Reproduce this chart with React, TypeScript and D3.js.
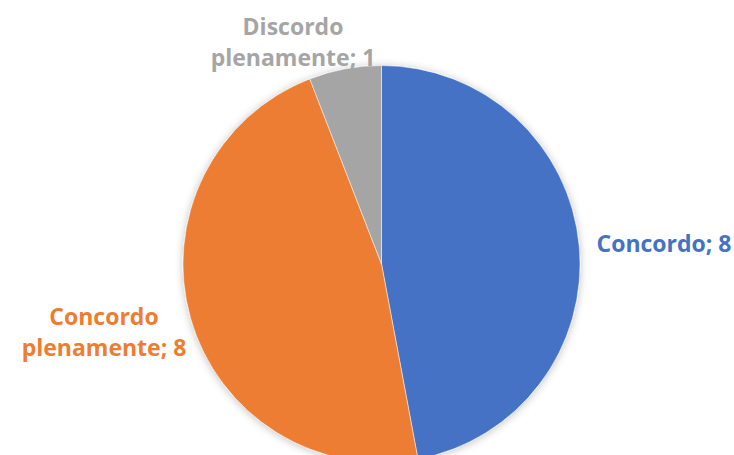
import React from "react";
import * as d3 from "d3";

const categories = ["Concordo", "Concordo plenamente", "Discordo plenamente"];
const values = [8, 8, 1];
const colors = ["#4472C4", "#ED7D31", "#A5A5A5"];
const labelLines = [["Concordo; 8"], ["Concordo", "plenamente; 8"], ["Discordo", "plenamente; 1"]];

export default function App() {
  const W = 734, H = 455;
  const cx = 381.5, cy = 264, r = 198.5;
  const pie = d3.pie<number>().sort(null).value((d) => d)(values);
  const arc = d3.arc<d3.PieArcDatum<number>>().innerRadius(0).outerRadius(r);
  const labelPos = [
    { x: 664, y: 252 },
    { x: 104, y: 325 },
    { x: 293, y: 35 },
  ];
  return (
    <svg width={W} height={H} style={{ position: "absolute", left: 0, top: 0 }}>
      <defs>
        <filter id="sh" x="-10%" y="-10%" width="120%" height="120%">
          <feGaussianBlur in="SourceAlpha" stdDeviation="4" />
          <feOffset dx="0" dy="1" result="b" />
          <feComponentTransfer>
            <feFuncA type="linear" slope="0.25" />
          </feComponentTransfer>
          <feMerge>
            <feMergeNode />
            <feMergeNode in="SourceGraphic" />
          </feMerge>
        </filter>
      </defs>
      <rect width={W} height={H} fill="#fff" />
      <g transform={`translate(${cx},${cy})`} filter="url(#sh)">
        {pie.map((p, i) => (
          <path key={categories[i]} d={arc(p) || ""} fill={colors[i]} stroke="#fff" strokeWidth={0.5} />
        ))}
      </g>
      {labelLines.map((lines, i) => (
        <text
          key={i}
          x={labelPos[i].x}
          y={labelPos[i].y}
          textAnchor="middle"
          fill={colors[i]}
          fontFamily="'Open Sans', sans-serif"
          fontWeight="bold"
          fontSize={23}
        >
          {lines.map((l, j) => (
            <tspan key={j} x={labelPos[i].x} dy={j === 0 ? 0 : 31}>
              {l}
            </tspan>
          ))}
        </text>
      ))}
    </svg>
  );
}
